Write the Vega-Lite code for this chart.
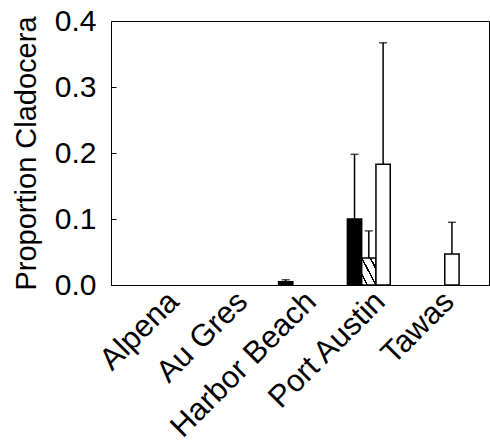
{
  "$schema": "https://vega.github.io/schema/vega-lite/v6.json",
  "width": 378,
  "height": 264,
  "autosize": "none",
  "padding": {"left": 111, "top": 21, "right": 1, "bottom": 158},
  "background": "white",
  "config": {
    "view": {"stroke": "black", "strokeWidth": 1},
    "font": "Liberation Sans",
    "axis": {"labelColor": "black", "titleColor": "black", "domainColor": "black", "tickColor": "black", "grid": false}
  },
  "data": {
    "values": [
      {"site": "Alpena", "series": "black", "value": 0, "upper": null},
      {"site": "Alpena", "series": "hatched", "value": 0, "upper": null},
      {"site": "Alpena", "series": "white", "value": 0, "upper": null},
      {"site": "Au Gres", "series": "black", "value": 0, "upper": null},
      {"site": "Au Gres", "series": "hatched", "value": 0, "upper": null},
      {"site": "Au Gres", "series": "white", "value": 0, "upper": null},
      {"site": "Harbor Beach", "series": "black", "value": 0.005, "upper": 0.008},
      {"site": "Harbor Beach", "series": "hatched", "value": 0, "upper": null},
      {"site": "Harbor Beach", "series": "white", "value": 0, "upper": null},
      {"site": "Port Austin", "series": "black", "value": 0.1, "upper": 0.198},
      {"site": "Port Austin", "series": "hatched", "value": 0.041, "upper": 0.082},
      {"site": "Port Austin", "series": "white", "value": 0.183, "upper": 0.367},
      {"site": "Tawas", "series": "black", "value": 0, "upper": null},
      {"site": "Tawas", "series": "hatched", "value": 0, "upper": null},
      {"site": "Tawas", "series": "white", "value": 0.047, "upper": 0.095}
    ]
  },
  "encoding": {
    "x": {
      "field": "site", "type": "nominal",
      "scale": {"domain": ["Alpena", "Au Gres", "Harbor Beach", "Port Austin", "Tawas"], "paddingInner": 0.377, "paddingOuter": 0.435},
      "axis": {"title": null, "labelAngle": -45, "labelFontSize": 31, "labelLimit": 500, "ticks": false, "labelPadding": 1, "labelOffset": 1, "domainWidth": 1}
    },
    "xOffset": {
      "field": "series", "type": "nominal",
      "scale": {"domain": ["black", "hatched", "white"], "paddingInner": 0, "paddingOuter": 0}
    }
  },
  "layer": [
    {
      "transform": [{"filter": "datum.series === 'black' && datum.value > 0"}],
      "mark": {"type": "bar", "fill": "black", "stroke": "black", "strokeWidth": 1.5},
      "encoding": {
        "y": {
          "field": "value", "type": "quantitative",
          "scale": {"domain": [0, 0.4], "nice": false},
          "axis": {
            "title": "Proportion Cladocera", "titleFontSize": 29, "titleFontWeight": "normal", "titlePadding": 13,
            "labelFontSize": 30, "values": [0, 0.1, 0.2, 0.3, 0.4], "format": ".1f",
            "tickSize": -5, "labelPadding": 20, "domainWidth": 1
          }
        }
      }
    },
    {
      "transform": [{"filter": "datum.series === 'hatched' && datum.value > 0"}],
      "mark": {
        "type": "bar", "stroke": "black", "strokeWidth": 1.5,
        "fill": {
          "gradient": "linear", "x1": 0, "y1": 1, "x2": 1, "y2": 0,
          "stops": [
            {"offset": 0, "color": "white"},
            {"offset": 0.17, "color": "white"},
            {"offset": 0.17, "color": "black"},
            {"offset": 0.23, "color": "black"},
            {"offset": 0.23, "color": "white"},
            {"offset": 0.47, "color": "white"},
            {"offset": 0.47, "color": "black"},
            {"offset": 0.53, "color": "black"},
            {"offset": 0.53, "color": "white"},
            {"offset": 0.77, "color": "white"},
            {"offset": 0.77, "color": "black"},
            {"offset": 0.83, "color": "black"},
            {"offset": 0.83, "color": "white"},
            {"offset": 1, "color": "white"}
          ]
        }
      },
      "encoding": {"y": {"field": "value", "type": "quantitative"}}
    },
    {
      "transform": [{"filter": "datum.series === 'white' && datum.value > 0"}],
      "mark": {"type": "bar", "fill": "white", "stroke": "black", "strokeWidth": 1.5},
      "encoding": {"y": {"field": "value", "type": "quantitative"}}
    },
    {
      "transform": [{"filter": "datum.upper != null"}],
      "mark": {"type": "rule", "color": "black", "strokeWidth": 1.5},
      "encoding": {
        "y": {"field": "value", "type": "quantitative"},
        "y2": {"field": "upper"}
      }
    },
    {
      "transform": [{"filter": "datum.upper != null"}],
      "mark": {"type": "tick", "color": "black", "size": 8, "thickness": 1.5, "orient": "horizontal"},
      "encoding": {"y": {"field": "upper", "type": "quantitative"}}
    }
  ]
}
